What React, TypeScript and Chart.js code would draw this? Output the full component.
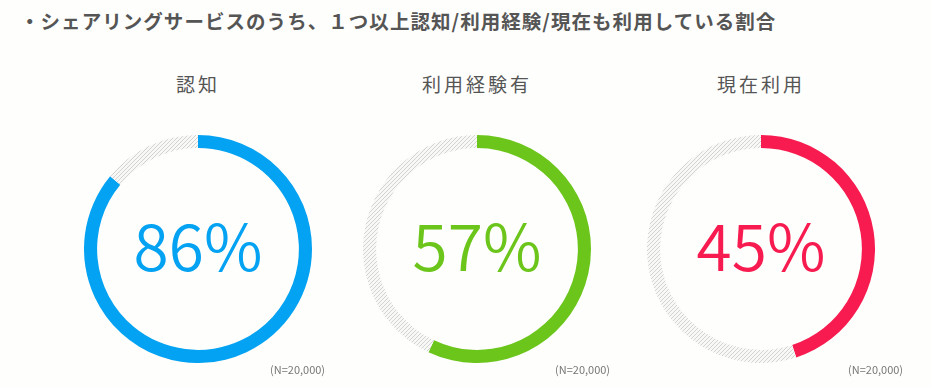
import React, { useEffect, useRef } from "react";
import { Chart, registerables } from "chart.js";

Chart.register(...registerables);

const titleText = "・シェアリングサービスのうち、１つ以上認知/利用経験/現在も利用している割合";
const categories = ["認知", "利用経験有", "現在利用"];
const percents = [86, 57, 45];
const sampleLabels = ["(N=20,000)", "(N=20,000)", "(N=20,000)"];
const ringColors = ["#04a2f2", "#6bc51a", "#f71b4f"];

const centersX = [198, 477, 761];
const sampleLabelX = [270, 555, 848];
const centerY = 249;
const radius = 114;

function makeHatch(): CanvasPattern | string {
  const c = document.createElement("canvas");
  c.width = 4;
  c.height = 4;
  const ctx = c.getContext("2d");
  if (!ctx) return "#ddd";
  ctx.fillStyle = "#f8f8f6";
  ctx.fillRect(0, 0, 4, 4);
  ctx.strokeStyle = "#d2d2d0";
  ctx.lineWidth = 1;
  ctx.beginPath();
  ctx.moveTo(0, 4);
  ctx.lineTo(4, 0);
  ctx.moveTo(-1, 1);
  ctx.lineTo(1, -1);
  ctx.moveTo(3, 5);
  ctx.lineTo(5, 3);
  ctx.stroke();
  const p = ctx.createPattern(c, "repeat");
  return p || "#ddd";
}

function Donut({ value, color }: { value: number; color: string }) {
  const ref = useRef<HTMLCanvasElement | null>(null);
  useEffect(() => {
    if (!ref.current) return;
    const hatch = makeHatch();
    const chart = new Chart(ref.current, {
      type: "doughnut",
      data: {
        labels: ["yes", "no"],
        datasets: [
          {
            data: [value, 100 - value],
            backgroundColor: [color, hatch as any],
            borderWidth: 0,
            hoverOffset: 0,
          },
        ],
      },
      options: {
        animation: false,
        responsive: true,
        maintainAspectRatio: false,
        cutout: "88.5%",
        rotation: 0,
        layout: { padding: 0 },
        plugins: { legend: { display: false }, tooltip: { enabled: false } },
        events: [],
      },
    });
    return () => chart.destroy();
  }, [value, color]);
  return <canvas ref={ref} />;
}

export default function App() {
  return (
    <div
      style={{
        position: "absolute",
        left: 0,
        top: 0,
        width: 931,
        height: 388,
        background: "#fefefc",
        overflow: "hidden",
        fontFamily: '"Noto Sans CJK JP", "Noto Sans", sans-serif',
      }}
    >
      <div
        style={{
          position: "absolute",
          left: 20,
          top: 6,
          fontSize: 19.5,
          fontWeight: 700,
          color: "#555",
          whiteSpace: "nowrap",
          letterSpacing: 1.05,
        }}
      >
        {titleText}
      </div>
      {categories.map((cat, i) => (
        <React.Fragment key={cat}>
          <div
            style={{
              position: "absolute",
              left: centersX[i] - 120,
              width: 240,
              top: 70,
              textAlign: "center",
              fontSize: 19,
              letterSpacing: 3,
              color: "#555",
              fontWeight: 400,
            }}
          >
            {cat}
          </div>
          <div
            style={{
              position: "absolute",
              left: centersX[i] - radius,
              top: centerY - radius,
              width: radius * 2,
              height: radius * 2,
            }}
          >
            <Donut value={percents[i]} color={ringColors[i]} />
          </div>
          <div
            style={{
              position: "absolute",
              left: centersX[i] - 110,
              width: 220,
              top: centerY - 46,
              textAlign: "center",
              fontSize: 64,
              lineHeight: "80px",
              color: ringColors[i],
              fontWeight: 350,
            }}
          >
            {percents[i]}%
          </div>
          <div
            style={{
              position: "absolute",
              left: sampleLabelX[i],
              top: 361,
              fontSize: 11,
              color: "#777",
              whiteSpace: "nowrap",
            }}
          >
            {sampleLabels[i]}
          </div>
        </React.Fragment>
      ))}
    </div>
  );
}
